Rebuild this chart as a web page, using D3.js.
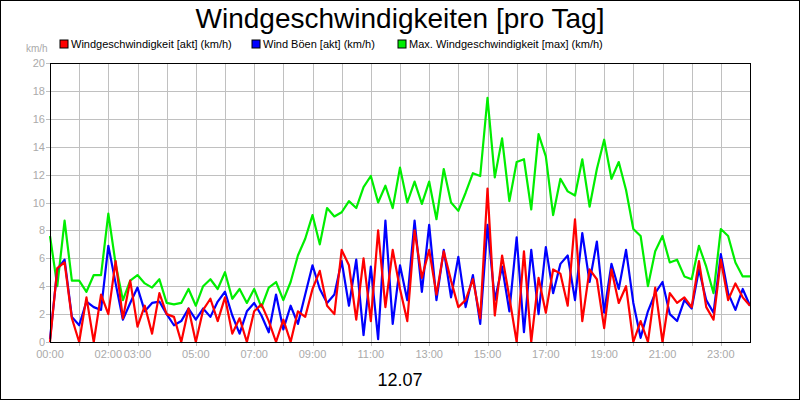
<!DOCTYPE html>
<html>
<head>
<meta charset="UTF-8">
<script src="https://cdn.jsdelivr.net/npm/d3@7"></script>
<style>
  body { margin: 0; background: #fff; }
  svg { font-family: Arial, 'Liberation Sans', sans-serif; }
</style>
</head>
<body>
<svg id="chart" width="800" height="400"></svg>
<script>
// Messwerte im 15-Minuten-Raster, 00:00 bis 24:00 (97 Werte)
const speed = [0,5.3,5.7,1.7,0,3.2,0,3.4,2.0,5.8,1.7,4.4,1.1,2.6,0.6,3.5,2.0,1.8,0,2.4,0,2.3,3.1,1.5,3.2,0.6,1.7,0,2.2,2.7,1.5,0,1.6,0,2.2,1.8,3.8,5.1,2.6,2.0,6.6,5.5,1.6,6.0,1.5,8.0,2.5,6.6,
  3.8,1.5,8.0,4.6,6.6,3.4,6.5,4.4,2.5,3.0,4.5,1.7,11.0,1.9,6.2,3.2,0,6.5,0,4.6,2.1,5.2,4.9,2.6,8.8,1.5,5.2,4.5,1.0,5.2,2.8,4.0,0,1.5,0,3.9,0,3.5,2.8,3.2,2.5,5.8,2.5,1.6,5.9,3.0,4.2,3.2,2.6];
const gusts = [0.2,5.2,5.9,1.8,1.2,2.9,2.5,2.3,6.9,4.2,1.6,2.8,3.9,2.2,2.8,2.9,2.0,1.2,1.5,2.4,1.6,2.4,1.8,2.9,3.6,1.9,0.6,2.2,2.8,1.9,0.7,3.4,0.9,2.6,1.3,3.4,5.5,3.8,2.8,3.4,5.8,2.6,5.9,0.5,5.4,0.2,8.7,1.3,
  5.5,3.0,8.7,3.6,8.4,3.0,6.6,3.2,6.1,2.5,4.8,1.3,8.4,3.0,5.4,2.2,7.5,0.7,6.6,2.0,6.8,3.5,5.6,6.2,3.0,7.8,4.3,7.2,2.1,5.6,3.8,6.6,2.8,0.3,2.2,3.5,4.3,2.0,1.5,3.0,2.4,5.2,3.0,2.1,6.3,3.5,2.3,3.8,2.6];
const maxSpeed = [7.6,4.0,8.7,4.4,4.4,3.6,4.8,4.8,9.2,5.6,3.0,4.4,4.8,4.2,3.9,4.5,2.8,2.7,2.8,3.8,2.6,4.0,4.5,3.8,5.0,3.1,3.8,2.8,3.8,2.5,3.9,4.3,3.0,4.3,6.2,7.4,9.1,7.0,9.6,9.0,9.3,10.1,9.6,11.1,11.9,10.0,11.2,9.6,
  12.5,10.0,11.5,9.9,11.5,8.8,12.4,10.0,9.4,10.7,12.1,11.9,17.5,11.8,14.6,10.1,12.9,13.1,9.5,14.9,13.3,9.1,11.7,10.8,10.5,13.1,9.7,12.4,14.5,11.7,12.9,10.9,8.1,7.6,4.0,6.5,7.6,5.7,5.9,4.7,4.5,6.9,5.4,3.5,8.1,7.6,5.7,4.7,4.7];
const hourTicks = [0,2,3,5,7,9,11,13,15,17,19,21,23];
const yTicks = [0,2,4,6,8,10,12,14,16,18,20];
const seriesNames = ['Windgeschwindigkeit [akt] (km/h)', 'Wind Böen [akt] (km/h)', 'Max. Windgeschwindigkeit [max] (km/h)'];
const seriesColors = ['#ff0000', '#0000ff', '#00ee00'];

const svg = d3.select('#chart');
const plotLeft = 50, plotRight = 750, plotTop = 63, plotBottom = 342;

const x = d3.scaleLinear().domain([0, 24]).range([plotLeft, plotRight]);
const y = d3.scaleLinear().domain([0, 20]).range([plotBottom, plotTop]);

// Rahmen
svg.append('rect').attr('x', 0.5).attr('y', 0.5).attr('width', 799).attr('height', 399)
  .attr('fill', '#fff').attr('stroke', '#000');

svg.append('text').attr('x', 400).attr('y', 28).attr('text-anchor', 'middle')
  .attr('font-size', 28).text('Windgeschwindigkeiten [pro Tag]');

// Legende
const legendX = [60, 252, 398];
seriesNames.forEach((n, i) => {
  svg.append('rect').attr('x', legendX[i]).attr('y', 40).attr('width', 8).attr('height', 8)
    .attr('fill', seriesColors[i]).attr('stroke', '#000');
  svg.append('text').attr('x', legendX[i] + 11).attr('y', 48).attr('font-size', 11).text(n);
});
svg.append('text').attr('x', 26).attr('y', 52).attr('font-size', 10).attr('fill', '#aaa').text('km/h');

// Gitter
const grid = svg.append('g').attr('stroke', '#c0c0c0').attr('stroke-width', 1);
d3.range(1, 24).forEach(h => grid.append('line')
  .attr('x1', Math.round(x(h)) + 0.5).attr('x2', Math.round(x(h)) + 0.5).attr('y1', plotTop).attr('y2', plotBottom + 4));
yTicks.forEach(v => grid.append('line')
  .attr('x1', plotLeft - 4).attr('x2', plotRight).attr('y1', Math.round(y(v)) + 0.5).attr('y2', Math.round(y(v)) + 0.5));

yTicks.forEach(v => svg.append('text').attr('x', plotLeft - 5).attr('y', y(v) + 4)
  .attr('text-anchor', 'end').attr('font-size', 11).attr('fill', '#aaa').text(v));
hourTicks.forEach(h => svg.append('text').attr('x', x(h)).attr('y', 358)
  .attr('text-anchor', 'middle').attr('font-size', 11).attr('fill', '#aaa')
  .text(String(h).padStart(2, '0') + ':00'));

svg.append('text').attr('x', 400).attr('y', 386).attr('text-anchor', 'middle')
  .attr('font-size', 18).text('12.07');

// Linien
const line = d3.line().x((d, i) => x(i / 4)).y(d => y(d));
[[maxSpeed, 2], [gusts, 1], [speed, 0]].forEach(([data, c]) => {
  svg.append('path').datum(data).attr('d', line).attr('fill', 'none')
    .attr('stroke', seriesColors[c]).attr('stroke-width', 2.2).attr('stroke-linejoin', 'round');
});

svg.append('rect').attr('x', plotLeft + 0.5).attr('y', plotTop + 0.5).attr('width', plotRight - plotLeft)
  .attr('height', plotBottom - plotTop).attr('fill', 'none').attr('stroke', '#000');
</script>
</body>
</html>
